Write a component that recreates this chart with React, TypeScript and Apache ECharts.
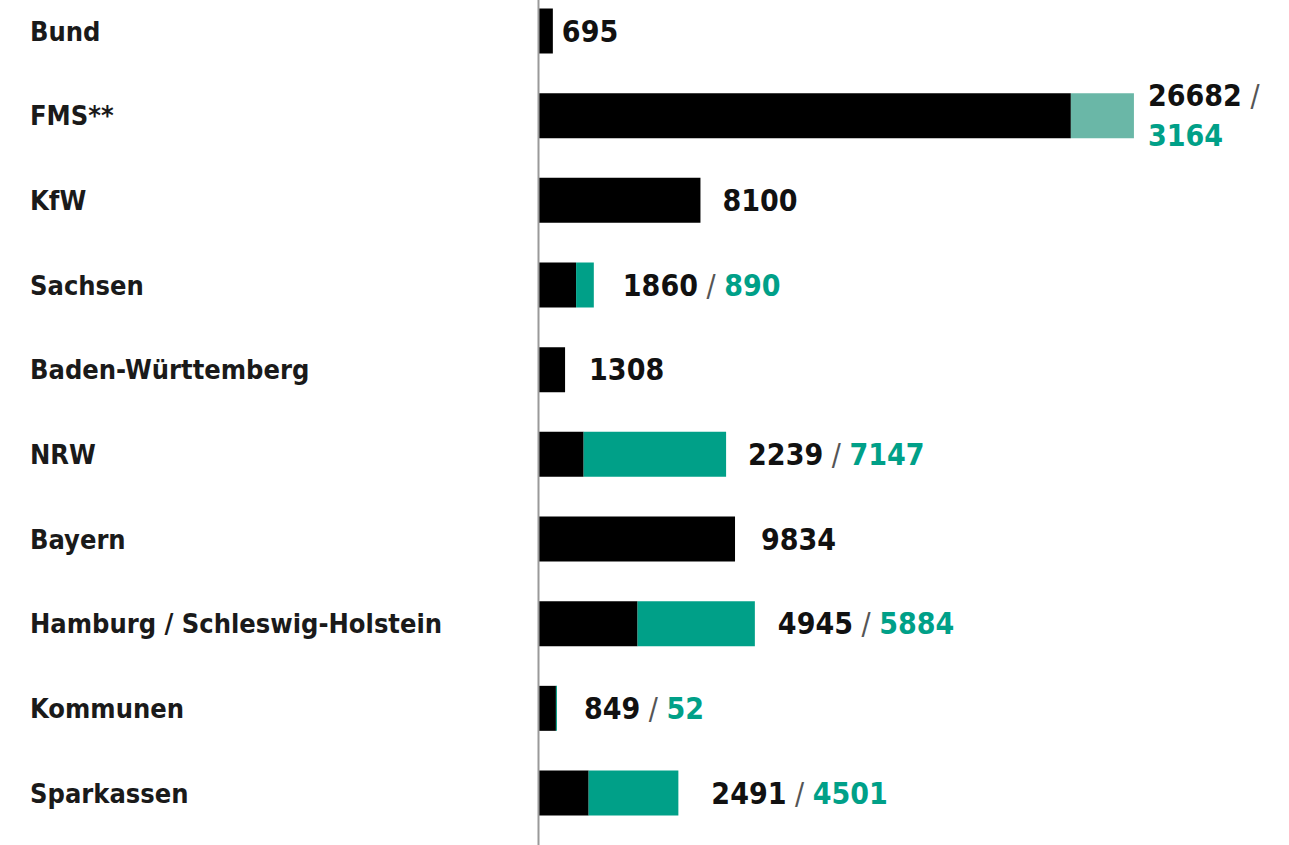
import React, { useEffect, useRef } from "react";
import * as echarts from "echarts";

const categories = [
  "Bund",
  "FMS**",
  "KfW",
  "Sachsen",
  "Baden-Württemberg",
  "NRW",
  "Bayern",
  "Hamburg / Schleswig-Holstein",
  "Kommunen",
  "Sparkassen",
];
const blackValues = [695, 26682, 8100, 1860, 1308, 2239, 9834, 4945, 849, 2491];
const tealValues = [0, 3164, 0, 890, 0, 7147, 0, 5884, 52, 4501];
const twoLineLabels = ["FMS**"];
const fadedTeal = ["FMS**"];
const labelGaps = [9, 14, 22, 29, 24, 22, 26, 23, 27, 33];

const FONT = "'Liberation Sans Narrow', 'DejaVu Sans Condensed', sans-serif";
const TEAL = "#00a088";
const TEAL_LIGHT = "#6ab7a7";

export default function App() {
  const ref = useRef<HTMLDivElement>(null);
  useEffect(() => {
    if (!ref.current) return;
    const chart = echarts.init(ref.current, null, { renderer: "svg" });
    const band = 84.667;
    const option: any = {
      animation: false,
      backgroundColor: "#ffffff",
      grid: {
        left: 539,
        width: 598,
        top: 31 - band / 2,
        height: band * 10,
        outerBoundsMode: "none",
        containLabel: false,
      },
      xAxis: { type: "value", min: 0, max: 30000, show: false },
      yAxis: {
        type: "category",
        inverse: true,
        data: categories,
        axisLine: { show: false },
        axisTick: { show: false },
        splitLine: { show: false },
        axisLabel: {
          align: "left",
          margin: 509,
          fontFamily: FONT,
          fontWeight: "bold",
          fontSize: 27,
          color: "#1a1a1a",
        },
      },
      graphic: [
        {
          type: "line",
          shape: { x1: 538.5, y1: 0, x2: 538.5, y2: 845 },
          style: { stroke: "#9a9a9a", lineWidth: 2 },
          z: 10,
        },
      ],
      series: [
        {
          type: "bar",
          stack: "total",
          barWidth: 45,
          data: blackValues,
          itemStyle: { color: "#000000" },
          silent: true,
        },
        {
          type: "bar",
          stack: "total",
          barWidth: 45,
          silent: true,
          data: tealValues.map((v, i) => ({
            value: v,
            itemStyle: { color: fadedTeal.includes(categories[i]) ? TEAL_LIGHT : TEAL },
            label: { distance: labelGaps[i] },
          })),
          label: {
            show: true,
            position: "right",
            fontFamily: FONT,
            formatter: (p: any) => {
              const i = p.dataIndex;
              const b = blackValues[i];
              const t = tealValues[i];
              if (!t) return `{b|${b}}`;
              if (twoLineLabels.includes(categories[i])) return `{b|${b}}{s| / }\n{t|${t}}`;
              return `{b|${b}}{s| / }{t|${t}}`;
            },
            rich: {
              b: { fontFamily: FONT, fontWeight: "bold", fontSize: 30, color: "#111111", lineHeight: 40 },
              s: { fontFamily: FONT, fontWeight: "normal", fontSize: 30, color: "#555555", lineHeight: 40 },
              t: { fontFamily: FONT, fontWeight: "bold", fontSize: 30, color: TEAL, lineHeight: 40 },
            },
          },
        },
      ],
    };
    chart.setOption(option);
    return () => chart.dispose();
  }, []);
  return (
    <div
      ref={ref}
      style={{ position: "absolute", left: 0, top: 0, width: 1289, height: 845 }}
    />
  );
}
